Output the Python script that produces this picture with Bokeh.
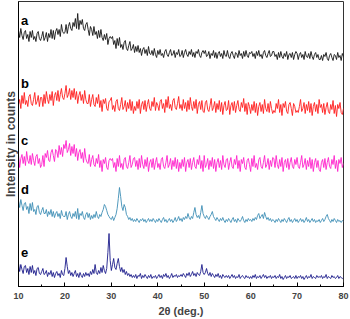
from bokeh.plotting import figure
from bokeh.models import SingleIntervalTicker, FixedTicker, Range1d
from bokeh.core.properties import value
from bokeh.embed import file_html
from bokeh.resources import INLINE

# intensity readings every 0.25 deg from 10.00 to 80.00 (one row = 5 deg)
series_a = [
    256, 249, 258, 251, 247, 254, 256, 248, 252, 245, 255, 249, 256, 247, 250, 245, 253, 255, 248, 246,
    250, 255, 246, 249, 254, 245, 253, 249, 257, 248, 256, 247, 255, 258, 252, 257, 250, 262, 255, 253,
    254, 262, 253, 260, 264, 258, 256, 264, 260, 268, 258, 273, 257, 266, 262, 267, 258, 256, 262, 264,
    257, 251, 260, 257, 251, 260, 252, 255, 248, 256, 249, 257, 249, 246, 252, 247, 253, 242, 248, 250,
    248, 250, 242, 246, 238, 248, 241, 249, 239, 242, 237, 244, 246, 238, 236, 241, 245, 236, 238, 242,
    234, 240, 235, 241, 234, 238, 231, 237, 239, 233, 237, 231, 240, 233, 232, 236, 231, 238, 232, 229,
    236, 232, 237, 231, 233, 229, 235, 237, 232, 230, 234, 237, 231, 232, 236, 229, 234, 232, 237, 230,
    231, 236, 229, 234, 237, 232, 230, 235, 232, 237, 230, 234, 229, 235, 233, 237, 231, 229, 234, 236,
    233, 236, 230, 231, 235, 228, 233, 231, 236, 229, 234, 228, 233, 235, 230, 233, 228, 236, 231, 230,
    236, 230, 228, 233, 235, 231, 228, 234, 233, 229, 236, 231, 233, 228, 235, 230, 236, 231, 229, 234,
    233, 235, 230, 233, 228, 235, 231, 236, 230, 232, 228, 234, 236, 231, 229, 233, 236, 230, 231, 235,
    235, 230, 232, 227, 234, 229, 235, 230, 228, 233, 230, 235, 227, 232, 233, 229, 234, 227, 232, 235,
    233, 227, 232, 234, 229, 232, 227, 235, 230, 229, 233, 228, 235, 230, 227, 232, 234, 229, 232, 227,
    227, 231, 226, 232, 230, 234, 228, 226, 231, 233, 229, 226, 232, 231, 227, 234, 229, 231, 226, 233,
    230,
]
series_b = [
    182, 187, 178, 191, 183, 194, 182, 186, 180, 190, 192, 183, 181, 187, 194, 182, 185, 191, 180, 189,
    189, 180, 192, 183, 195, 187, 183, 192, 186, 195, 181, 191, 194, 186, 196, 185, 192, 198, 189, 187,
    193, 201, 189, 192, 198, 187, 196, 189, 198, 187, 195, 183, 191, 195, 186, 192, 183, 196, 187, 183,
    183, 192, 180, 187, 192, 182, 180, 189, 183, 192, 179, 186, 175, 187, 183, 188, 178, 176, 185, 186,
    189, 177, 181, 175, 185, 187, 178, 176, 182, 189, 177, 180, 186, 175, 184, 178, 187, 176, 185, 173,
    180, 176, 185, 178, 187, 173, 182, 185, 177, 186, 175, 182, 187, 178, 176, 185, 180, 189, 176, 184,
    181, 176, 185, 187, 178, 183, 174, 187, 179, 190, 178, 182, 176, 186, 188, 179, 177, 183, 190, 178,
    182, 176, 187, 178, 184, 175, 186, 177, 189, 180, 176, 185, 178, 187, 173, 182, 185, 177, 186, 175,
    174, 184, 186, 177, 175, 181, 188, 176, 179, 185, 174, 183, 177, 186, 175, 184, 172, 181, 185, 176,
    177, 186, 172, 181, 184, 176, 185, 174, 181, 186, 177, 175, 184, 179, 188, 175, 183, 172, 184, 180,
    173, 182, 176, 185, 174, 183, 171, 180, 184, 175, 182, 173, 187, 178, 175, 183, 174, 185, 178, 173,
    176, 174, 183, 178, 187, 174, 182, 171, 183, 179, 185, 175, 173, 182, 184, 178, 171, 183, 180, 174,
    176, 174, 180, 187, 175, 178, 184, 173, 182, 176, 185, 174, 183, 171, 180, 184, 175, 182, 173, 187,
    179, 182, 174, 183, 172, 179, 184, 175, 173, 182, 177, 186, 173, 181, 170, 182, 178, 184, 174, 172,
    178,
]
series_c = [
    131, 119, 128, 132, 123, 130, 121, 135, 126, 123, 131, 122, 133, 126, 121, 130, 132, 123, 128, 119,
    122, 131, 120, 133, 129, 136, 126, 125, 134, 137, 131, 125, 137, 135, 129, 141, 132, 139, 130, 142,
    138, 146, 134, 137, 143, 131, 140, 133, 142, 130, 138, 126, 134, 137, 128, 134, 124, 138, 128, 124,
    123, 132, 120, 127, 131, 122, 120, 128, 123, 132, 119, 126, 115, 127, 123, 129, 119, 117, 126, 128,
    126, 128, 119, 124, 115, 128, 120, 131, 119, 123, 117, 127, 129, 120, 118, 124, 131, 119, 122, 128,
    129, 120, 126, 117, 128, 119, 131, 122, 118, 127, 120, 129, 115, 124, 127, 119, 128, 117, 124, 129,
    119, 123, 117, 127, 129, 120, 118, 124, 131, 119, 122, 128, 117, 126, 120, 129, 118, 127, 115, 124,
    118, 127, 120, 129, 115, 124, 127, 119, 128, 117, 124, 129, 120, 118, 127, 122, 131, 118, 126, 115,
    131, 119, 122, 128, 117, 126, 120, 129, 118, 127, 115, 124, 128, 119, 126, 117, 131, 122, 119, 127,
    128, 117, 124, 129, 120, 118, 127, 122, 131, 118, 126, 115, 127, 123, 129, 119, 117, 126, 128, 122,
    115, 128, 120, 131, 119, 123, 117, 127, 129, 120, 118, 124, 131, 119, 122, 128, 117, 126, 120, 129,
    128, 119, 131, 122, 118, 127, 120, 129, 115, 124, 127, 119, 128, 117, 124, 129, 120, 118, 127, 122,
    129, 120, 118, 124, 131, 119, 122, 128, 117, 126, 120, 129, 118, 127, 115, 124, 128, 119, 126, 117,
    115, 124, 127, 119, 128, 117, 124, 129, 120, 118, 127, 122, 131, 118, 126, 115, 127, 123, 129, 119,
    123,
]
series_d = [
    86, 79, 87, 81, 76, 83, 84, 77, 80, 73, 83, 76, 84, 75, 77, 72, 80, 81, 74, 72,
    76, 79, 73, 73, 77, 70, 75, 72, 77, 70, 75, 69, 73, 75, 70, 73, 68, 76, 71, 70,
    70, 75, 67, 72, 75, 70, 68, 73, 70, 75, 68, 78, 67, 73, 71, 75, 69, 67, 72, 74,
    69, 73, 67, 71, 68, 72, 69, 75, 70, 68, 72, 70, 74, 77, 82, 80, 76, 72, 70, 68,
    67, 70, 66, 69, 72, 78, 88, 99, 90, 80, 76, 82, 79, 72, 70, 67, 69, 66, 68, 65,
    67, 65, 68, 66, 64, 67, 66, 68, 65, 67, 64, 66, 68, 65, 67, 65, 68, 66, 64, 67,
    65, 68, 66, 64, 67, 69, 65, 67, 64, 66, 68, 65, 67, 64, 66, 69, 65, 67, 70, 66,
    68, 65, 69, 67, 70, 68, 73, 69, 67, 70, 68, 74, 79, 72, 69, 71, 68, 74, 81, 73,
    70, 68, 71, 69, 67, 70, 72, 75, 70, 68, 66, 69, 67, 65, 68, 66, 69, 66, 64, 67,
    65, 68, 66, 64, 67, 69, 65, 67, 64, 68, 66, 65, 67, 70, 66, 64, 67, 65, 68, 66,
    67, 65, 68, 66, 69, 67, 71, 73, 68, 70, 72, 68, 74, 70, 67, 69, 66, 68, 65, 67,
    66, 64, 67, 65, 68, 66, 64, 67, 65, 68, 66, 64, 67, 69, 65, 67, 64, 66, 68, 65,
    67, 64, 66, 68, 65, 67, 64, 66, 69, 65, 67, 64, 66, 68, 65, 67, 64, 66, 65, 67,
    64, 66, 68, 65, 67, 70, 72, 68, 66, 64, 67, 65, 68, 66, 64, 67, 65, 66, 64, 66,
    65,
]
series_e = [
    23, 15, 22, 17, 13, 20, 21, 14, 18, 12, 20, 14, 21, 13, 16, 11, 18, 19, 13, 12,
    15, 18, 12, 13, 16, 10, 14, 12, 16, 10, 14, 9, 13, 15, 11, 13, 9, 16, 12, 11,
    18, 29, 20, 13, 16, 11, 14, 10, 13, 16, 10, 13, 9, 14, 11, 9, 13, 10, 14, 11,
    13, 10, 15, 12, 17, 13, 22, 14, 12, 16, 13, 19, 14, 21, 16, 13, 18, 34, 53, 26,
    16, 22, 28, 19, 17, 23, 28, 20, 15, 19, 14, 17, 12, 15, 11, 13, 10, 12, 9, 11,
    9, 12, 8, 11, 10, 13, 8, 11, 9, 12, 10, 8, 11, 9, 12, 8, 10, 9, 11, 8,
    10, 12, 9, 11, 8, 12, 10, 13, 9, 11, 8, 10, 13, 9, 11, 10, 12, 9, 11, 10,
    12, 10, 13, 11, 9, 13, 11, 14, 10, 12, 15, 11, 13, 10, 14, 12, 11, 15, 22, 14,
    12, 14, 18, 13, 11, 14, 10, 13, 11, 9, 12, 10, 13, 9, 11, 8, 12, 10, 9, 11,
    9, 11, 8, 10, 12, 9, 11, 8, 10, 9, 12, 8, 10, 11, 9, 8, 11, 9, 10, 8,
    10, 8, 11, 9, 12, 8, 10, 9, 11, 8, 10, 12, 9, 11, 8, 10, 9, 11, 8, 10,
    9, 11, 8, 10, 9, 12, 8, 10, 7, 9, 11, 8, 10, 9, 11, 8, 9, 10, 8, 11,
    8, 10, 9, 11, 8, 10, 7, 9, 11, 8, 10, 9, 12, 8, 10, 9, 8, 11, 9, 10,
    9, 11, 8, 10, 9, 12, 8, 10, 9, 8, 11, 9, 10, 8, 9, 11, 8, 10, 9, 8,
    9,
]

series_names = ["a", "b", "c", "d", "e"]
series_colors = ["#151515", "#ff1e1e", "#ff22cc", "#3f8fb6", "#1d1d8c"]
label_x = [10.55, 10.55, 10.55, 10.55, 10.55]
label_y = [266, 203, 146, 97, 34]

x_title = "2θ (deg.)"
y_title = "Intensity in counts"

two_theta = [10 + i * 0.25 for i in range(len(series_a))]

p = figure(width=350, height=319, output_backend="svg", toolbar_location=None,
           x_range=Range1d(10, 80), y_range=Range1d(0, 285),
           min_border_left=18, min_border_right=7, min_border_top=1, min_border_bottom=33)

for ys, col in zip([series_a, series_b, series_c, series_d, series_e], series_colors):
    p.line(two_theta, ys, line_color=col, line_width=1, line_alpha=0.9)

p.text(x=label_x, y=label_y, text=series_names, text_font=value("Liberation Sans"),
       text_font_style="bold", text_font_size="13px", text_baseline="middle",
       text_align="left", text_color="black")

p.grid.visible = False
p.outline_line_color = "#333333"
p.outline_line_width = 1

xa = p.xaxis[0]
xa.ticker = SingleIntervalTicker(interval=10, num_minor_ticks=2)
xa.major_tick_in = 4
xa.major_tick_out = 0
xa.minor_tick_in = 2
xa.minor_tick_out = 0
xa.axis_line_color = "black"
xa.major_tick_line_color = "black"
xa.minor_tick_line_color = "black"
xa.major_label_text_font = "Liberation Sans"
xa.major_label_text_font_style = "bold"
xa.major_label_text_font_size = "9px"
xa.major_label_standoff = 6
xa.axis_label = x_title
xa.axis_label_text_font = "Liberation Sans"
xa.axis_label_text_font_style = "bold"
xa.axis_label_text_font_size = "11px"
xa.axis_label_standoff = 3

ya = p.yaxis[0]
ya.ticker = FixedTicker(ticks=[])
ya.major_tick_in = 0
ya.major_tick_out = 0
ya.minor_tick_in = 0
ya.minor_tick_out = 0
ya.major_label_text_font_size = "0px"
ya.axis_line_color = "black"
ya.axis_label = y_title
ya.axis_label_text_font = "Liberation Sans"
ya.axis_label_text_font_style = "bold"
ya.axis_label_text_font_size = "12px"
ya.axis_label_standoff = 1

open("out.html", "w").write(file_html(p, INLINE))
